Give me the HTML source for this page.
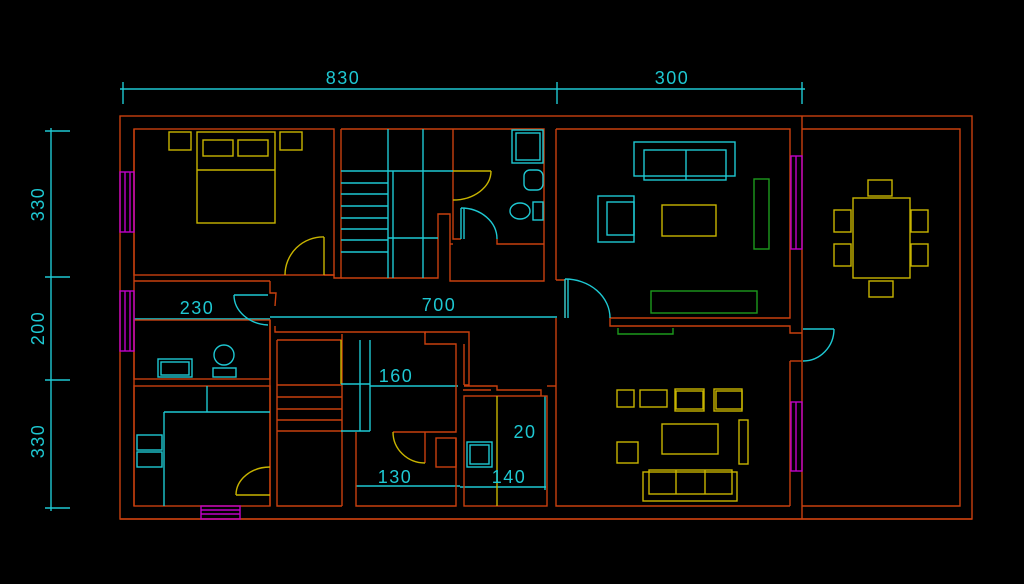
<!DOCTYPE html>
<html><head><meta charset="utf-8"><style>
html,body{margin:0;padding:0;background:#000;width:1024px;height:584px;overflow:hidden}
svg{display:block}
text{font-family:"Liberation Sans",sans-serif;font-size:18px;fill:#1ec8d2;letter-spacing:1.5px}
</style></head><body>
<svg width="1024" height="584" viewBox="0 0 1024 584" xmlns="http://www.w3.org/2000/svg">
<g fill="none" stroke-width="1.4">
<g stroke="#1ec8d2">
<line x1="120" y1="89" x2="805" y2="89"/>
<line x1="123" y1="82" x2="123" y2="104"/>
<line x1="557" y1="82" x2="557" y2="104"/>
<line x1="802" y1="82" x2="802" y2="104"/>
<line x1="51" y1="128" x2="51" y2="511"/>
<line x1="45" y1="131" x2="70" y2="131"/>
<line x1="45" y1="277" x2="70" y2="277"/>
<line x1="45" y1="380" x2="70" y2="380"/>
<line x1="45" y1="508" x2="70" y2="508"/>
<line x1="134" y1="319" x2="270" y2="319"/>
<line x1="270" y1="317" x2="557" y2="317"/>
<line x1="370" y1="386" x2="458" y2="386"/>
<line x1="356" y1="486" x2="460" y2="486"/>
<line x1="460" y1="487" x2="546" y2="487"/>
<line x1="545" y1="396" x2="545" y2="490"/>
</g>
<g stroke="#c8400e">
<rect x="120" y="116" width="852" height="403"/>
<line x1="802" y1="116" x2="802" y2="519"/>
<polyline points="802,129 960,129 960,506 802,506"/>
<rect x="134" y="129" width="200" height="146"/>
<polyline points="270,281 134,281"/>
<polyline points="134,129 134,506"/>
<polyline points="270,281 270,293 276,293 275,306"/>
<polyline points="324,275 334,275 334,278 341,278 341,129"/>
<line x1="341" y1="129" x2="453" y2="129"/>
<polyline points="341,278 438,278 438,214 450,214 450,281 544,281 544,129 453,129"/>
<polyline points="453,129 453,239 461,239"/>
<polyline points="453,244 450,244"/>
<polyline points="497,239 497,244 544,244"/>
<line x1="556" y1="129" x2="556" y2="280"/>
<polyline points="556,129 790,129 790,318 610,318 610,326 790,326 790,333 802,333"/>
<polyline points="556,280 565,280 565,318"/>
<polyline points="556,318 556,506 790,506"/>
<polyline points="790,361 790,506"/>
<polyline points="790,361 802,361"/>
<rect x="134" y="320" width="136" height="59"/>
<rect x="134" y="386" width="136" height="120"/>
<polyline points="270,320 270,506"/>
<polyline points="275,326 275,332 425,332 425,334"/>
<polyline points="277,340 342,340"/>
<polyline points="277,340 277,506 342,506"/>
<line x1="277" y1="385" x2="342" y2="385"/>
<line x1="277" y1="397" x2="342" y2="397"/>
<line x1="277" y1="409" x2="342" y2="409"/>
<line x1="277" y1="420" x2="342" y2="420"/>
<line x1="277" y1="431" x2="342" y2="431"/>
<line x1="342" y1="334" x2="342" y2="506"/>
<polyline points="425,332 469,332 469,385 464,385"/>
<polyline points="425,332 425,344 456,344 456,432 393,432"/>
<polyline points="356,432 356,506 456,506 456,438"/>
<polyline points="425,432 425,463"/>
<rect x="436" y="438" width="20" height="29"/>
<polyline points="464,344 464,385"/>
<polyline points="464,386 497,386 497,390 541,390 541,396"/>
<line x1="463" y1="390" x2="491" y2="390"/>
<rect x="464" y="396" width="83" height="110"/>
<polyline points="547,386 556,386"/>
<polyline points="120,519 972,519"/>
</g>
<g stroke="#c000c8">
<rect x="120" y="172" width="14" height="60"/><line x1="125" y1="172" x2="125" y2="232"/><line x1="130" y1="172" x2="130" y2="232"/>
<rect x="120" y="291" width="14" height="60"/><line x1="125" y1="291" x2="125" y2="351"/><line x1="130" y1="291" x2="130" y2="351"/>
<rect x="201" y="506" width="39" height="13"/><line x1="201" y1="510" x2="240" y2="510"/><line x1="201" y1="514" x2="240" y2="514"/>
<rect x="791" y="156" width="11" height="93"/><line x1="796" y1="156" x2="796" y2="249"/>
<rect x="791" y="402" width="11" height="69"/><line x1="796" y1="402" x2="796" y2="471"/>
</g>
<g stroke="#c8b400">
<rect x="169" y="132" width="22" height="18"/>
<rect x="280" y="132" width="22" height="18"/>
<rect x="197" y="132" width="78" height="91"/>
<line x1="197" y1="170" x2="275" y2="170"/>
<rect x="203" y="140" width="30" height="16"/>
<rect x="238" y="140" width="30" height="16"/>
<polyline points="324,275 324,237"/>
<path d="M324,237 A38,38 0 0 0 285,275"/>
<line x1="453" y1="171" x2="491" y2="171"/>
<path d="M491,171 A38,29 0 0 1 453,200"/>
<line x1="236" y1="495" x2="270" y2="495"/>
<path d="M270,467 A34,28 0 0 0 236,495"/>
<line x1="341" y1="340" x2="341" y2="384"/>
<path d="M393,432 A32,31 0 0 0 425,463"/>
<line x1="497" y1="396" x2="497" y2="506"/>
<rect x="662" y="205" width="54" height="31"/>
<rect x="853" y="198" width="57" height="80"/>
<rect x="868" y="180" width="24" height="16"/>
<rect x="869" y="281" width="24" height="16"/>
<rect x="834" y="210" width="17" height="22"/><rect x="834" y="244" width="17" height="22"/>
<rect x="911" y="210" width="17" height="22"/><rect x="911" y="244" width="17" height="22"/>
<rect x="617" y="390" width="17" height="17"/>
<rect x="640" y="390" width="27" height="17"/>
<rect x="675" y="389" width="29" height="22"/><rect x="676" y="391" width="27" height="18"/>
<rect x="714" y="389" width="28" height="22"/><rect x="716" y="391" width="26" height="18"/>
<rect x="662" y="424" width="56" height="30"/>
<rect x="617" y="442" width="21" height="21"/>
<rect x="739" y="420" width="9" height="44"/>
<rect x="643" y="472" width="94" height="29"/>
<rect x="649" y="470" width="83" height="24"/>
<line x1="676" y1="470" x2="676" y2="494"/><line x1="705" y1="470" x2="705" y2="494"/>
</g>
<g stroke="#1ec8d2">
<line x1="341" y1="171" x2="453" y2="171"/>
<line x1="341" y1="183" x2="388" y2="183"/>
<line x1="341" y1="194" x2="388" y2="194"/>
<line x1="341" y1="206" x2="388" y2="206"/>
<line x1="341" y1="218" x2="388" y2="218"/>
<line x1="341" y1="229" x2="388" y2="229"/>
<line x1="341" y1="240" x2="388" y2="240"/>
<line x1="341" y1="252" x2="388" y2="252"/>
<line x1="388" y1="129" x2="388" y2="278"/>
<line x1="393" y1="171" x2="393" y2="278"/>
<line x1="423" y1="129" x2="423" y2="278"/>
<line x1="388" y1="238" x2="438" y2="238"/>
<rect x="512" y="130" width="31" height="33"/><rect x="516" y="133" width="24" height="27"/>
<rect x="524" y="170" width="19" height="20" rx="6"/>
<ellipse cx="520" cy="211" rx="10" ry="8"/><rect x="533" y="202" width="10" height="18"/>
<line x1="461" y1="208" x2="461" y2="239"/><line x1="464" y1="208" x2="464" y2="239"/>
<path d="M461,208 A36,31 0 0 1 497,239"/>
<line x1="234" y1="295" x2="268" y2="295"/>
<path d="M234,295 A36,30 0 0 0 268,325"/>
<rect x="158" y="359" width="34" height="18"/><rect x="161" y="362" width="28" height="13"/>
<ellipse cx="224" cy="355" rx="10" ry="10"/><rect x="213" y="368" width="23" height="9"/>
<line x1="164" y1="412" x2="164" y2="506"/>
<line x1="164" y1="412" x2="270" y2="412"/>
<line x1="207" y1="386" x2="207" y2="412"/>
<rect x="137" y="435" width="25" height="15"/><rect x="137" y="452" width="25" height="15"/>
<line x1="360" y1="340" x2="360" y2="431"/>
<line x1="370" y1="340" x2="370" y2="431"/>
<line x1="341" y1="384" x2="370" y2="384"/>
<line x1="341" y1="431" x2="370" y2="431"/>
<rect x="467" y="442" width="25" height="25"/><rect x="470" y="445" width="19" height="19"/>
<rect x="634" y="142" width="101" height="34"/>
<rect x="644" y="150" width="82" height="30"/>
<line x1="686" y1="150" x2="686" y2="180"/>
<rect x="598" y="196" width="36" height="46"/><rect x="607" y="202" width="27" height="33"/>
<line x1="565" y1="279" x2="565" y2="318"/><line x1="568" y1="279" x2="568" y2="318"/>
<path d="M565,279 A45,39 0 0 1 610,318"/>
<line x1="803" y1="329" x2="834" y2="329"/>
<path d="M834,329 A31,32 0 0 1 803,361"/>
</g>
<g stroke="#1c9a1c">
<rect x="754" y="179" width="15" height="70"/>
<rect x="651" y="291" width="106" height="22"/>
<polyline points="618,328 618,334 673,334 673,328"/>
</g>
</g>
<text x="343" y="84" text-anchor="middle">830</text>
<text x="672" y="84" text-anchor="middle">300</text>
<text transform="translate(44,204) rotate(-90)" text-anchor="middle">330</text>
<text transform="translate(44,328) rotate(-90)" text-anchor="middle">200</text>
<text transform="translate(44,441) rotate(-90)" text-anchor="middle">330</text>
<text x="197" y="314" text-anchor="middle">230</text>
<text x="439" y="311" text-anchor="middle">700</text>
<text x="396" y="382" text-anchor="middle">160</text>
<text x="525" y="438" text-anchor="middle">20</text>
<text x="395" y="483" text-anchor="middle">130</text>
<text x="509" y="483" text-anchor="middle">140</text>
</svg>
</body></html>
